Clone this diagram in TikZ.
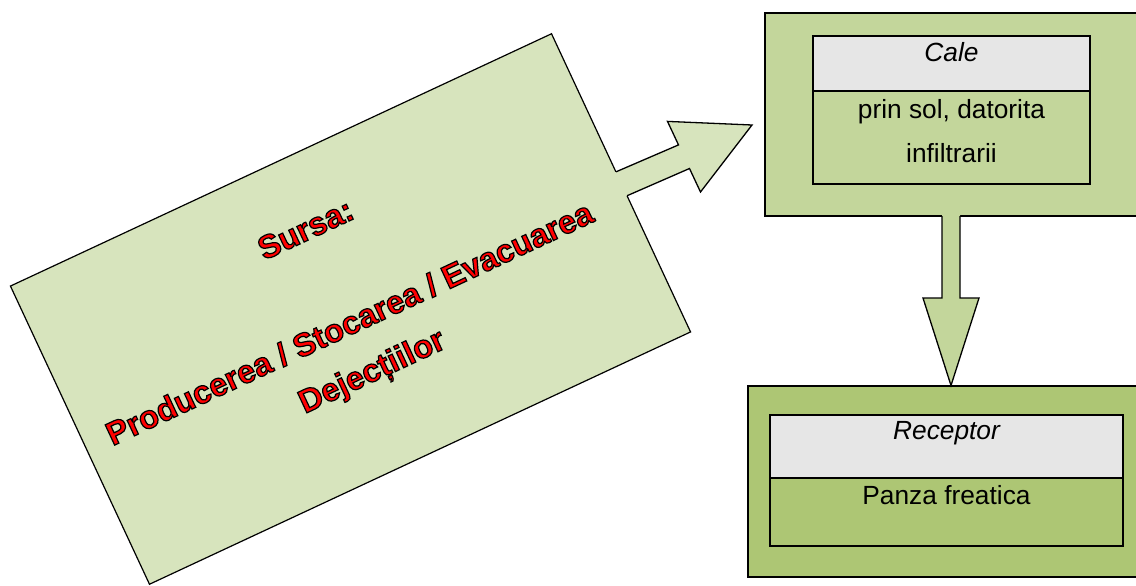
\documentclass[tikz,border=0pt]{standalone}
\usepackage{fontspec}
\setmainfont{Liberation Sans}
\definecolor{srcfill}{HTML}{D7E4BD}
\definecolor{calefill}{HTML}{C3D69B}
\definecolor{recfill}{HTML}{ADC674}
\definecolor{hdrfill}{HTML}{E6E6E6}
\definecolor{txtred}{HTML}{FF0000}
\newcommand{\outlinedtext}[1]{\special{pdf:literal direct 2 Tr 1.2 w 0 0 0 RG}#1\special{pdf:literal direct 0 Tr}}
\tikzset{
  outline/.style={draw=black, line width=1.3pt},
  panel/.style={outline, inner sep=0pt, outer sep=0pt},
  bodytxt/.style={font=\fontsize{26.3}{30}\selectfont, inner sep=0pt, anchor=base},
  headtxt/.style={bodytxt, font=\fontsize{26.3}{30}\selectfont\itshape},
  redtxt/.style={rotate=25, align=center, text=txtred, inner sep=0pt,
    font=\bfseries\fontsize{32.5}{52}\selectfont},
}
\begin{document}
\begin{tikzpicture}[x=1pt,y=-1pt,line join=miter]
\useasboundingbox (0,0) rectangle (1136,586);

% Source rectangle (rotated)
\node[panel, line width=1.2pt, fill=srcfill, rotate=25, minimum width=597pt, minimum height=329pt] (sursa) at (350.5,309) {};

% Block arrow from source to Cale
\coordinate (tip) at (752,125);
\coordinate (h1) at (667.5,121.4);
\coordinate (h2) at (700.5,192);
\coordinate (n1) at (678.5,144.9);
\coordinate (n2) at (689.5,168.5);
\coordinate (t1) at (597,180);
\coordinate (t2) at (608,204);
\coordinate (e1) at (intersection of n1--t1 and sursa.north east--sursa.south east);
\coordinate (e2) at (intersection of n2--t2 and sursa.north east--sursa.south east);
\fill[srcfill] (t1) -- (n1) -- (h1) -- (tip) -- (h2) -- (n2) -- (t2) -- cycle;
\draw[line width=1.3pt] (e1) -- (n1) -- (h1) -- (tip) -- (h2) -- (n2) -- (e2);

% Cale panel
\node[panel, fill=calefill, minimum width=373pt, minimum height=203pt] (cale) at (951.5,114.5) {};
\node[panel, fill=hdrfill, minimum width=277pt, minimum height=55pt] (calehead) at (951.5,63.5) {};
\node[panel, fill=calefill, minimum width=277pt, minimum height=93pt] (calebody) at (951.5,137.5) {};
\node[headtxt] (caletitle) at (951.5,62) {Cale};
\node[bodytxt] (caleline1) at (951.5,118) {prin sol, datorita};
\node[bodytxt] (caleline2) at (951.5,162) {infiltrarii};

% Receptor panel
\node[panel, fill=recfill, minimum width=397pt, minimum height=191pt] (rec) at (946.5,481.5) {};
\node[panel, fill=hdrfill, minimum width=353pt, minimum height=63pt] (rechead) at (946.5,446.5) {};
\node[panel, fill=recfill, minimum width=353pt, minimum height=68pt] (recbody) at (946.5,512) {};
\node[headtxt] (rectitle) at (946.5,439) {Receptor};
\node[bodytxt] (recline) at (946.5,504) {Panza freatica};

% Down block arrow from Cale to Receptor
\coordinate (dl) at (942,298);
\coordinate (dr) at (960,298);
\coordinate (dhl) at (923,298);
\coordinate (dhr) at (979,298);
\coordinate (dtip) at (951,385.5);
\coordinate (dtl) at (dl |- cale.south);
\coordinate (dtr) at (dr |- cale.south);
\fill[calefill] ([yshift=6pt]dtl) -- (dl) -- (dhl) -- (dtip) -- (dhr) -- (dr) -- ([yshift=6pt]dtr) -- cycle;
\draw[line width=1.3pt] (dtl) -- (dl) -- (dhl) -- (dtip) -- (dhr) -- (dr) -- (dtr);

% Source text
\node[redtxt] (sursatxt) at (340,303) {\outlinedtext{Sursa:}\\[52pt]\outlinedtext{Producerea / Stocarea / Evacuarea}\\\outlinedtext{Dejecțiilor}};
\end{tikzpicture}
\end{document}
